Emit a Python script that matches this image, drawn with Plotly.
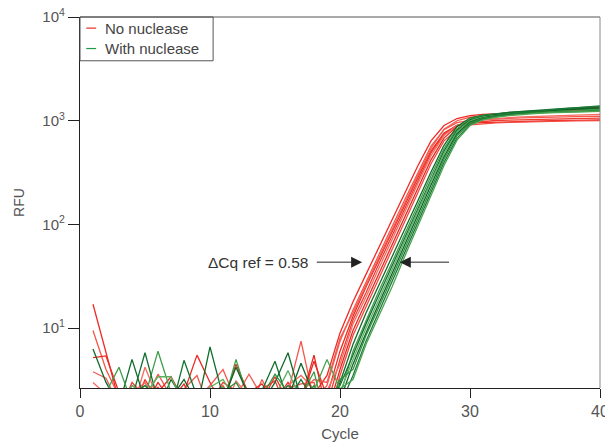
import math
import plotly.graph_objects as go

cycles = list(range(1, 41))

# RFU readings per cycle (cycles 1..40), no nuclease
red_1 = [17, 6, 2.0, 1.5, 3.2, 2.0, 1.6, 2.4, 5.5, 3.0, 1.8, 2.2, 1.4, 2.0, 3.4, 2.0, 1.5, 2.3,
         3.5, 9, 18, 33, 60, 110, 200, 370, 640, 900, 1050, 1120,
         1150, 1170, 1185, 1200, 1210, 1220, 1230, 1240, 1245, 1250]
red_2 = [9.5, 4, 2.2, 1.8, 2.0, 3.6, 2.2, 1.5, 2.1, 2.8, 4.0, 2.0, 1.6, 3.2, 1.8, 2.4, 7.5, 2.0,
         2.8, 7.5, 15, 28, 52, 95, 175, 320, 570, 820, 960, 1010,
         1030, 1045, 1055, 1065, 1075, 1080, 1090, 1095, 1100, 1105]
red_3 = [5.2, 5.4, 2.4, 2.0, 1.6, 2.4, 3.4, 2.0, 1.7, 2.2, 1.9, 4.5, 2.3, 1.5, 2.0, 3.0, 2.0, 4.8,
         2.2, 6, 13, 25, 46, 85, 155, 285, 510, 760, 900, 950,
         960, 970, 980, 990, 995, 1000, 1005, 1010, 1015, 1020]
red_4 = [3.8, 3.3, 1.8, 2.3, 3.0, 1.8, 2.1, 2.6, 3.5, 1.6, 2.4, 2.2, 3.6, 2.2, 1.7, 2.0, 2.4, 3.2,
         3.0, 8, 14, 26, 48, 88, 165, 300, 540, 830, 1000, 1080,
         1120, 1150, 1170, 1190, 1210, 1230, 1250, 1270, 1285, 1300]
red_5 = [2.2, 2.6, 1.5, 3.0, 2.2, 2.7, 1.8, 2.0, 2.3, 1.9, 3.0, 2.5, 2.0, 2.6, 3.1, 1.6, 2.1, 1.8,
         1.8, 5, 12, 22, 42, 78, 145, 270, 490, 740, 900, 960,
         990, 1005, 1015, 1025, 1030, 1040, 1045, 1050, 1055, 1060]
red_6 = [3.0, 2.3, 2.0, 1.6, 4.2, 2.1, 2.5, 1.7, 2.2, 2.0, 1.5, 3.1, 2.2, 2.0, 2.4, 2.8, 3.5, 2.6,
         2.5, 4.5, 11, 20, 38, 72, 135, 250, 460, 720, 900, 980,
         1020, 1050, 1070, 1090, 1100, 1115, 1125, 1135, 1145, 1150]
red_7 = [2.5, 1.9, 2.6, 2.1, 1.8, 3.0, 2.0, 2.9, 1.6, 2.3, 2.1, 1.8, 2.4, 2.9, 1.9, 2.2, 2.0, 5.5,
         1.5, 4, 9.5, 18, 34, 64, 120, 225, 420, 680, 880, 990,
         1050, 1100, 1140, 1180, 1210, 1250, 1280, 1310, 1330, 1350]
red_8 = [1.8, 2.1, 1.7, 2.8, 2.3, 1.6, 2.2, 1.9, 2.6, 2.1, 2.8, 1.7, 1.9, 2.2, 2.0, 2.6, 2.9, 3.0,
         1.2, 3.5, 8.5, 16, 31, 58, 110, 205, 385, 640, 820, 910,
         940, 955, 965, 975, 980, 985, 990, 995, 1000, 1005]

# RFU readings per cycle (cycles 1..40), with nuclease
green_1 = [6.3, 3.0, 1.8, 5.0, 2.0, 1.6, 3.2, 2.0, 1.7, 6.6, 2.2, 1.8, 2.4, 1.9, 3.0, 5.8, 2.1, 1.8,
           1.5, 3.0, 7, 14, 26, 48, 90, 170, 320, 580, 880, 1060,
           1130, 1170, 1200, 1220, 1240, 1260, 1280, 1300, 1310, 1320]
green_2 = [2.0, 2.4, 4.2, 1.9, 2.2, 6.0, 2.4, 2.0, 2.6, 2.1, 1.8, 5.0, 2.0, 2.3, 1.8, 2.6, 2.2, 3.8,
           1.2, 2.2, 6, 12, 23, 43, 82, 155, 295, 540, 840, 1040,
           1120, 1160, 1190, 1210, 1230, 1250, 1260, 1270, 1280, 1290]
green_3 = [1.6, 1.8, 2.3, 2.1, 5.8, 2.0, 1.6, 4.9, 2.2, 1.9, 2.6, 2.2, 1.7, 2.5, 4.8, 2.0, 3.2, 2.0,
           2.0, 2.8, 5.5, 11, 21, 40, 76, 145, 275, 510, 810, 1020,
           1110, 1160, 1200, 1230, 1260, 1290, 1310, 1330, 1350, 1370]
green_4 = [2.4, 2.0, 1.7, 2.8, 2.3, 3.4, 3.4, 1.8, 2.0, 2.7, 3.2, 2.0, 2.5, 1.8, 2.2, 3.9, 2.0, 2.4,
           1.3, 2.4, 5, 10, 19, 37, 70, 135, 260, 480, 780, 990,
           1080, 1120, 1150, 1170, 1190, 1200, 1210, 1220, 1230, 1240]
green_5 = [1.5, 2.2, 2.6, 1.8, 2.0, 2.4, 2.1, 3.2, 1.9, 2.2, 2.0, 4.2, 2.2, 1.6, 2.6, 2.1, 4.6, 2.2,
           1.1, 2.0, 4.5, 9, 17.5, 34, 65, 125, 240, 450, 750, 970,
           1070, 1120, 1160, 1190, 1220, 1250, 1270, 1290, 1310, 1330]
green_6 = [2.2, 1.7, 2.0, 2.4, 1.8, 2.6, 1.9, 2.2, 2.6, 1.8, 2.4, 3.0, 1.9, 2.2, 3.6, 2.4, 1.9, 2.8,
           1.6, 3.2, 4, 8.5, 16, 31, 60, 115, 225, 425, 720, 950,
           1060, 1110, 1150, 1180, 1200, 1220, 1230, 1240, 1250, 1260]
green_7 = [1.8, 2.6, 1.9, 2.2, 2.8, 2.0, 2.5, 1.7, 2.1, 2.5, 1.9, 2.6, 2.2, 1.9, 2.0, 2.8, 2.3, 1.7,
           1.0, 1.8, 3.5, 7.5, 14.5, 28, 55, 106, 205, 395, 680, 920,
           1040, 1100, 1150, 1190, 1230, 1270, 1300, 1330, 1360, 1390]
green_8 = [2.1, 1.9, 2.5, 1.6, 2.4, 2.1, 1.8, 2.6, 1.8, 2.2, 2.7, 1.9, 2.4, 2.0, 2.6, 1.8, 2.5, 2.5,
           5.0, 2.6, 3.2, 7, 13, 25, 50, 97, 190, 370, 650, 900,
           1020, 1080, 1120, 1150, 1170, 1190, 1200, 1210, 1220, 1230]

red_series = [red_1, red_2, red_3, red_4, red_5, red_6, red_7, red_8]
green_series = [green_1, green_2, green_3, green_4, green_5, green_6, green_7, green_8]

legend_labels = ["No nuclease", "With nuclease"]

y_tick_vals = [10, 100, 1000, 10000]
y_tick_text = ["10<sup>1</sup>", "10<sup>2</sup>", "10<sup>3</sup>", "10<sup>4</sup>"]
x_tick_vals = [0, 10, 20, 30, 40]

annot_text = "ΔCq ref = 0.58"
annot_rfu = 43.3
arrow_left_from, arrow_left_to = 18.1, 21.7
arrow_right_from, arrow_right_to = 28.5, 24.6
annot_text_x = 17.7

red_colors = ["#ee2b24", "#f4564c", "#ec2a22", "#f25a50", "#ef3a30", "#f66a60", "#e82820", "#f34a40"]
green_colors = ["#0f6b2c", "#3f9d4a", "#137230", "#5bb05e", "#0c6428", "#2f8f40", "#1a7a36", "#4aa552"]
legend_colors = ["#e8312a", "#1f9a4a"]

fig = go.Figure()
for i, s in enumerate(red_series):
    fig.add_trace(go.Scatter(x=cycles, y=s, mode="lines", name=legend_labels[0],
                             legendgroup="red", showlegend=False,
                             line=dict(color=red_colors[i], width=1.3)))
for i, s in enumerate(green_series):
    fig.add_trace(go.Scatter(x=cycles, y=s, mode="lines", name=legend_labels[1],
                             legendgroup="green", showlegend=False,
                             line=dict(color=green_colors[i], width=1.3)))

# Legend box (drawn manually to match the short line samples)
fig.add_shape(type="rect", xref="paper", yref="paper", x0=0, x1=0.256, y0=0.882, y1=1.0,
              line=dict(color="#555", width=1), fillcolor="white", layer="above")
for k, (lab, col, yy) in enumerate(zip(legend_labels, legend_colors, [0.970, 0.915])):
    fig.add_shape(type="line", xref="paper", yref="paper", x0=0.012, x1=0.031, y0=yy, y1=yy,
                  line=dict(color=col, width=1.2), layer="above")
    fig.add_annotation(xref="paper", yref="paper", x=0.044, y=yy, text=lab, showarrow=False,
                       xanchor="left", yanchor="middle",
                       font=dict(size=15, color="#444", family="Liberation Sans"))

ly = math.log10(annot_rfu)
fig.add_annotation(x=annot_text_x, y=ly, text=annot_text, showarrow=False,
                   xanchor="right", yanchor="middle",
                   font=dict(size=15.5, color="#333", family="Liberation Sans"))
fig.add_annotation(x=arrow_left_to, y=ly, ax=arrow_left_from, ay=ly,
                   axref="x", ayref="y", xref="x", yref="y", text="",
                   showarrow=True, arrowhead=2, arrowsize=2.2, arrowwidth=1, arrowcolor="#222")
fig.add_annotation(x=arrow_right_to, y=ly, ax=arrow_right_from, ay=ly,
                   axref="x", ayref="y", xref="x", yref="y", text="",
                   showarrow=True, arrowhead=2, arrowsize=2.2, arrowwidth=1, arrowcolor="#222")

# top and right frame lines
fig.add_shape(type="line", xref="paper", yref="paper", x0=0, x1=1, y0=1, y1=1,
              line=dict(color="#555", width=1))
fig.add_shape(type="line", xref="paper", yref="paper", x0=1, x1=1, y0=0, y1=1,
              line=dict(color="#888", width=1))

# the page adds an 8px body margin, so the figure is sized to fit the 613x442 window
fig.update_layout(
    width=605, height=434,
    margin=dict(l=72, r=13, t=9, b=54),
    paper_bgcolor="white", plot_bgcolor="white",
    font=dict(family="Liberation Sans", color="#555", size=14),
    showlegend=False,
    xaxis=dict(range=[0, 40], tickvals=x_tick_vals, showgrid=False, zeroline=False,
               automargin=False,
               showline=True, linecolor="#222", linewidth=1.2,
               ticks="outside", ticklen=9, tickcolor="#222",
               tickfont=dict(size=16, color="#555"),
               title=dict(text="Cycle", font=dict(size=15, color="#555"), standoff=14)),
    yaxis=dict(type="log", range=[math.log10(2.65), 4], tickvals=y_tick_vals, ticktext=y_tick_text,
               showgrid=False, zeroline=False, automargin=False, ticklabeloverflow="allow",
               showline=True, linecolor="#222", linewidth=1.2,
               ticks="outside", ticklen=11, tickcolor="#222",
               tickfont=dict(size=15, color="#555"),
               title=dict(text="RFU", font=dict(size=14, color="#555"), standoff=14)),
)

fig.write_html("out.html")
